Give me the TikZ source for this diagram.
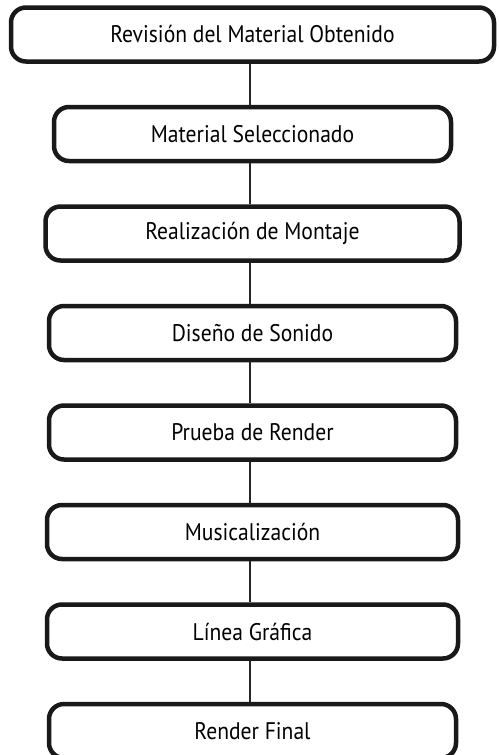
\documentclass[tikz,border=0pt]{standalone}
\usepackage{fontspec}
\setmainfont[FakeStretch=0.9]{PT Sans}
\usepackage{tikz}
\usetikzlibrary{positioning}

\begin{document}
\begin{tikzpicture}[
    x=1pt, y=-1pt,
    node distance=41pt,
    stepbox/.style={rectangle, rounded corners=15pt, draw=black!90, line width=4.5pt, fill=white, minimum width=407pt, minimum height=54pt, align=center, font=\fontsize{24}{28}\selectfont},
    link/.style={line width=2.5pt, black!85}
]
    \useasboundingbox (0,0) rectangle (498,755);

    \node[stepbox, minimum width=483pt] (revision) at (252.5,34.5) {Revisión del Material Obtenido};
    \node[stepbox, minimum width=397pt, below=of revision] (material) {Material Seleccionado};
    \node[stepbox, minimum width=414pt, below=of material] (montaje) {Realización de Montaje};
    \node[stepbox, below=of montaje] (sonido) {Diseño de Sonido};
    \node[stepbox, below=of sonido] (prueba) {Prueba de Render};
    \node[stepbox, minimum width=411pt, below=of prueba] (musica) {Musicalización};
    \node[stepbox, minimum width=411pt, below=of musica] (grafica) {Línea Gráfica};
    \node[stepbox, below=of grafica] (final) {Render Final};

    \draw[link] (revision.south -| 250,0) -- (material.north -| 250,0);
    \draw[link] (material.south -| 250,0) -- (montaje.north -| 250,0);
    \draw[link] (montaje.south -| 250,0) -- (sonido.north -| 250,0);
    \draw[link] (sonido.south -| 250,0) -- (prueba.north -| 250,0);
    \draw[link] (prueba.south -| 250,0) -- (musica.north -| 250,0);
    \draw[link] (musica.south -| 250,0) -- (grafica.north -| 250,0);
    \draw[link] (grafica.south -| 250,0) -- (final.north -| 250,0);
\end{tikzpicture}
\end{document}
